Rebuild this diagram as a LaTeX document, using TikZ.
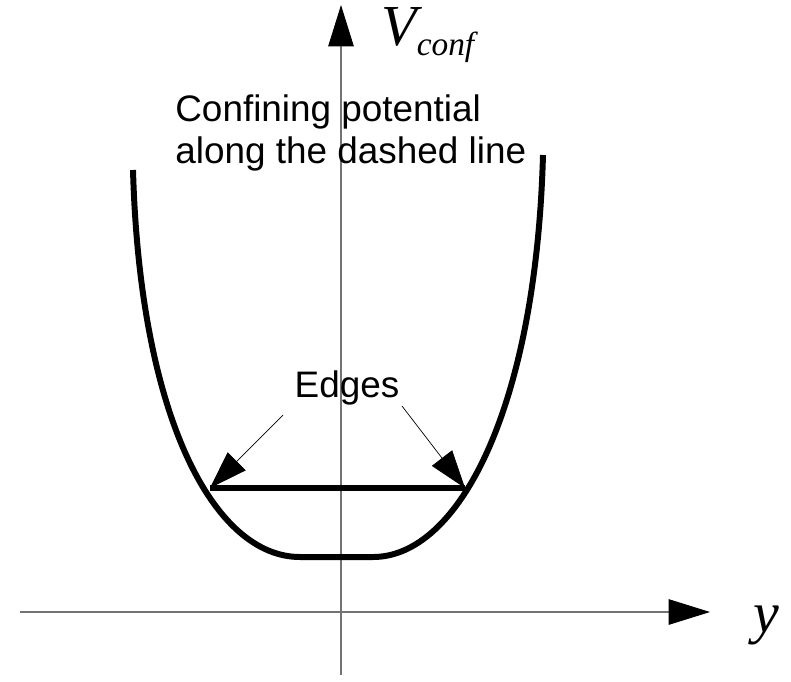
\documentclass[tikz,border=0pt]{standalone}
\usepackage{fontspec}
\setmainfont{Liberation Sans}
\newfontfamily\timesfont{Liberation Serif}
\usepackage{tikz}
\usetikzlibrary{arrows.meta, positioning}

\begin{document}
\begin{tikzpicture}[
  x=0.02cm, y=-0.02cm,
  axis/.style={draw=black!55, line width=0.6pt,
               -{Triangle[length=23.5pt, width=14.5pt, black]}},
  well/.style={line width=3.4pt},
  edgearrow/.style={line width=0.4pt, -{Triangle[length=21.5pt, width=14.5pt]}},
  legende/.style={font=\fontsize{21}{24.4}\selectfont, align=left, inner sep=0pt},
  symb/.style={font=\timesfont\itshape, inner sep=0pt}
]
\useasboundingbox (0,0) rectangle (791,681);

% axes
\coordinate (vbot) at (341,675);
\coordinate (vtop) at (341,5);
\coordinate (hleft) at (20,612);
\coordinate (hright) at (710,612);
\draw[axis] (vbot) -- (vtop);
\draw[axis] (hleft) -- (hright);

\node[symb, anchor=base west] (vconf) at (381,45)
  {\fontsize{33}{33}\selectfont V\raisebox{-5.7pt}{\fontsize{19}{19}\selectfont conf}};
\node[symb, anchor=base west] (ylab) at (753,632) {\fontsize{33}{33}\selectfont y};

\node[legende, anchor=north west] (legend) at (175,94)
  {Confining potential\\along the dashed line};

% confining potential
\draw[well] (133,170) .. controls (140,420) and (215,557) .. (300,557)
  -- (373,557) .. controls (458,557) and (536,410) .. (543,155);

\coordinate (ledge) at (210,488);
\coordinate (redge) at (465,488);
\draw[well] (ledge) -- (redge);

\node[font=\fontsize{21}{24}\selectfont, anchor=base] (edges) at (347,397) {Edges};
\draw[edgearrow] ([shift={(-64,18)}]edges.base) -- (ledge);
\draw[edgearrow] ([shift={(55,9)}]edges.base) -- (redge);

\end{tikzpicture}
\end{document}
